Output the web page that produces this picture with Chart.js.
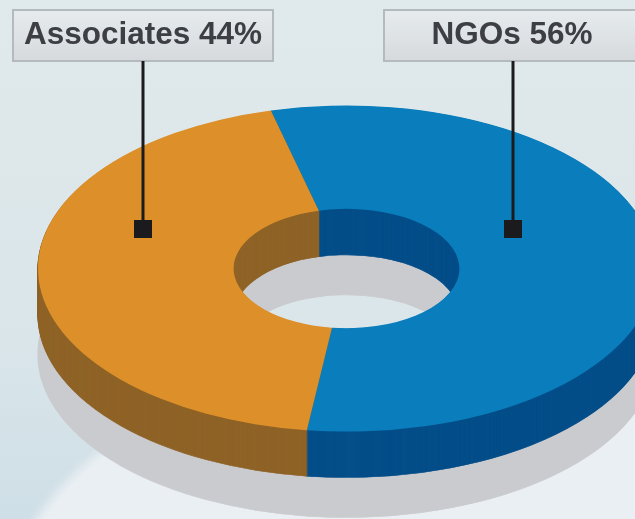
<!DOCTYPE html>
<html>
<head>
<meta charset="utf-8">
<style>
html,body{margin:0;padding:0;background:#dfe9eb;overflow:hidden}
canvas{display:block}
</style>
<script src="https://cdn.jsdelivr.net/npm/chart.js@4"></script>
</head>
<body>
<canvas id="c" width="635" height="519"></canvas>
<script>
const categories = ["NGOs", "Associates"];
const seriesValues = [56, 44];
const faceColors = ["#0a7dbc", "#dd9029"];
const wallColors = ["#044e89", "#8f6327"];
const shadowColor = "#cacbcf";

const RING = {cx: 346.5, cy: 268.5, rx: 308.5, ry: 163, depth: 46, shadowDrop: 86};
const LABELS = {
  Associates: {left: 13, right: 273, anchor: 143},
  NGOs: {left: 384, right: 650, anchor: 513}
};

function ringTransform(ctx, el, dy) {
  ctx.translate(RING.cx, RING.cy + dy);
  ctx.scale(RING.rx / el.outerRadius, RING.ry / el.outerRadius);
  ctx.translate(-el.x, -el.y);
}
function ghostArc(el, color) {
  const g = Object.create(el);
  g.options = {backgroundColor: color, borderColor: color, borderWidth: 1, borderAlign: "center",
    borderJoinStyle: "round", borderRadius: 0, spacing: 0, offset: 0, circular: true, selfJoin: false};
  return g;
}

const scene = {
  id: "scene",
  beforeDraw(chart) {
    const ctx = chart.ctx, W = chart.width, H = chart.height;
    ctx.save();
    const bg = ctx.createLinearGradient(0, 0, 0, H);
    bg.addColorStop(0, "#e0e9eb");
    bg.addColorStop(0.6, "#dbe6ea");
    bg.addColorStop(1, "#cfdfe7");
    ctx.fillStyle = bg;
    ctx.fillRect(0, 0, W, H);
    ctx.filter = "blur(5px)";
    ctx.fillStyle = "#eaeff3";
    ctx.beginPath();
    ctx.ellipse(405, 620, 400, 260, 0, 0, Math.PI * 2);
    ctx.fill();
    ctx.restore();
  },
  beforeDatasetsDraw(chart) {
    const ctx = chart.ctx, arcs = chart.getDatasetMeta(0).data;
    ctx.save();
    ringTransform(ctx, arcs[0], RING.shadowDrop);
    arcs.forEach(a => ghostArc(a, shadowColor).draw(ctx));
    ctx.restore();
    for (let dy = RING.depth; dy >= 1; dy--) {
      ctx.save();
      ringTransform(ctx, arcs[0], dy);
      arcs.forEach((a, i) => ghostArc(a, wallColors[i]).draw(ctx));
      ctx.restore();
    }
  },
  beforeDatasetDraw(chart) {
    const ctx = chart.ctx;
    ctx.save();
    ringTransform(ctx, chart.getDatasetMeta(0).data[0], 0);
  },
  afterDatasetDraw(chart) {
    chart.ctx.restore();
  },
  afterDatasetsDraw(chart) {
    const ctx = chart.ctx;
    ctx.save();
    categories.forEach((cat, i) => {
      const b = LABELS[cat], top = 10, bottom = 61;
      const g = ctx.createLinearGradient(0, top, 0, bottom);
      g.addColorStop(0, "#e6ebed");
      g.addColorStop(1, "#d6dadd");
      ctx.fillStyle = g;
      ctx.fillRect(b.left, top, b.right - b.left, bottom - top);
      ctx.strokeStyle = "#b4babe";
      ctx.lineWidth = 2;
      ctx.strokeRect(b.left, top, b.right - b.left, bottom - top);
      ctx.strokeStyle = "#1b1b1d";
      ctx.lineWidth = 3;
      ctx.beginPath();
      ctx.moveTo(b.anchor, bottom);
      ctx.lineTo(b.anchor, 229);
      ctx.stroke();
      ctx.fillStyle = "#1b1b1d";
      ctx.fillRect(b.anchor - 9, 220, 18, 18);
      ctx.fillStyle = "#3d3f44";
      ctx.font = 'bold 31.5px "Liberation Sans", Arial, sans-serif';
      ctx.textAlign = "center";
      ctx.textBaseline = "middle";
      const tx = cat === "NGOs" ? 512 : (b.left + b.right) / 2;
      ctx.fillText(cat + " " + seriesValues[i] + "%", tx, 35);
    });
    ctx.restore();
  }
};

new Chart(document.getElementById("c"), {
  type: "doughnut",
  data: {
    labels: categories,
    datasets: [{data: seriesValues, backgroundColor: faceColors, borderWidth: 0, clip: 30}]
  },
  options: {
    responsive: false,
    animation: false,
    rotation: -14.2,
    cutout: "36.6%",
    layout: {padding: 0},
    plugins: {legend: {display: false}, tooltip: {enabled: false}, title: {display: false}}
  },
  plugins: [scene]
});
</script>
</body>
</html>
